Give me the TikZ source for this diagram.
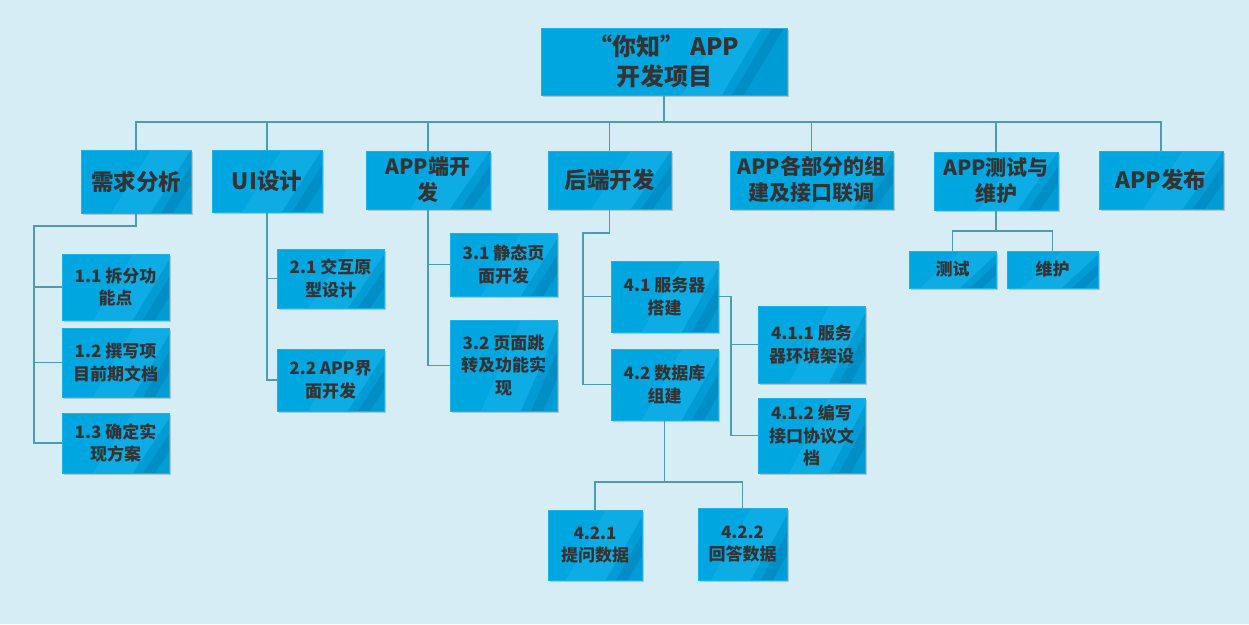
\documentclass[tikz,border=0pt]{standalone}
\usepackage{fontspec}
\setmainfont{Noto Sans CJK SC}
\usetikzlibrary{calc}
\definecolor{bgc}{HTML}{D6EDF6}
\definecolor{boxc}{HTML}{00A6E0}
\definecolor{boxlight}{HTML}{0EACE4}
\definecolor{boxdark}{HTML}{009CD6}
\definecolor{stripec}{HTML}{008EC7}
\definecolor{edgec}{HTML}{1EB0E6}
\definecolor{shadowc}{HTML}{A8C6D2}
\definecolor{linec}{HTML}{4A9BB4}
\definecolor{txtc}{HTML}{333333}
\tikzset{
  stripeoff/.store in=\stripeoff, stripeoff=38pt,
  box/.style={rectangle, fill=boxc, draw=edgec, line width=0.6pt, inner sep=2pt,
    align=center, text=txtc,
    preaction={fill=shadowc, transform canvas={shift={(1.5pt,-1.5pt)}}},
    path picture={
      \coordinate (SE) at (path picture bounding box.south east);
      \coordinate (NE) at (path picture bounding box.north east);
      \fill[boxlight] ($(SE)+(-\stripeoff-40pt,0pt)$) -- ($(NE)+(-\stripeoff,0pt)$) -- ($(NE)+(-\stripeoff+40pt,0pt)$) -- ($(SE)+(-\stripeoff,0pt)$) -- cycle;
      \fill[boxdark] ($(SE)+(-\stripeoff,0pt)$) -- ($(NE)+(-\stripeoff+40pt,0pt)$) -- ($(NE)+(60pt,0pt)$) -- ($(SE)+(60pt,0pt)$) -- cycle;
      \fill[stripec] ($(SE)+(-\stripeoff+10pt,0pt)$) -- ($(NE)+(-\stripeoff+50pt,0pt)$) -- ($(NE)+(-\stripeoff+62pt,0pt)$) -- ($(SE)+(-\stripeoff+22pt,0pt)$) -- cycle;
    }},
  rootbox/.style={box, stripeoff=65pt, font=\fontsize{24}{30}\selectfont\bfseries},
  l1box/.style={box, stripeoff=40pt, font=\fontsize{21}{26}\selectfont\bfseries},
  l1big/.style={l1box, font=\fontsize{22.5}{27}\selectfont\bfseries},
  l2box/.style={box, stripeoff=36pt, font=\fontsize{17}{22.5}\selectfont\bfseries},
  conn/.style={draw=linec, line width=1.2pt}
}
\begin{document}
\begin{tikzpicture}[x=1pt,y=-1pt]
\useasboundingbox (0,0) rectangle (1249,624);
\fill[bgc] (0,0) rectangle (1249,624);

% root
\node[rootbox, minimum width=246pt, minimum height=67pt] (root) at (664,61.5) {“你知” APP\\开发项目};

% level 1
\node[l1big, minimum width=110pt, minimum height=63pt] (n1) at (136,181.5) {需求分析};
\node[l1big, minimum width=110pt, minimum height=62pt] (n2) at (267,181) {UI设计};
\node[l1box, minimum width=124pt, minimum height=58pt] (n3) at (428,180) {APP端开\\发};
\node[l1big, minimum width=123pt, minimum height=58pt] (n4) at (609.5,180) {后端开发};
\node[l1box, minimum width=163pt, minimum height=58pt] (n5) at (811.5,180) {APP各部分的组\\建及接口联调};
\node[l1box, minimum width=124pt, minimum height=58pt] (n6) at (996,181) {APP测试与\\维护};
\node[l1big, minimum width=124pt, minimum height=58pt] (n7) at (1161,180) {APP发布};

% level 2
\node[l2box, minimum width=107pt, minimum height=66pt] (c11) at (115.5,287) {1.1 拆分功\\能点};
\node[l2box, minimum width=107pt, minimum height=69pt] (c12) at (115.5,362.5) {1.2 撰写项\\目前期文档};
\node[l2box, minimum width=107pt, minimum height=60pt] (c13) at (115.5,443) {1.3 确定实\\现方案};
\node[l2box, minimum width=107pt, minimum height=59pt] (c21) at (330.5,278.5) {2.1 交互原\\型设计};
\node[l2box, minimum width=107pt, minimum height=62pt] (c22) at (330.5,380) {2.2 APP界\\面开发};
\node[l2box, minimum width=107pt, minimum height=63pt] (c31) at (503.5,264.5) {3.1 静态页\\面开发};
\node[l2box, minimum width=107pt, minimum height=91pt] (c32) at (503.5,365.5) {3.2 页面跳\\转及功能实\\现};
\node[l2box, minimum width=107pt, minimum height=71pt] (c41) at (664.5,296.5) {4.1 服务器\\搭建};
\node[l2box, minimum width=107pt, minimum height=71pt] (c42) at (664.5,384.5) {4.2 数据库\\组建};
\node[l2box, minimum width=107pt, minimum height=77pt] (c411) at (811.5,344.5) {4.1.1 服务\\器环境架设};
\node[l2box, minimum width=107pt, minimum height=75pt] (c412) at (811.5,435.5) {4.1.2 编写\\接口协议文\\档};
\node[l2box, minimum width=94pt, minimum height=70pt] (c421) at (595,545) {4.2.1\\提问数据};
\node[l2box, minimum width=89pt, minimum height=72pt] (c422) at (742.5,544) {4.2.2\\回答数据};
\node[l2box, minimum width=87pt, minimum height=37pt] (t1) at (952.5,269.5) {测试};
\node[l2box, minimum width=91pt, minimum height=37pt] (t2) at (1052.5,269.5) {维护};

% connectors
\coordinate (bus) at (664,122);
\foreach \n in {n1,n2,n3,n4,n5,n6,n7}
  \draw[conn] (root.south) -- (bus) -| (\n.north);

\coordinate (j1) at (34,226);
\draw[conn] (n1.south) |- (j1) |- (c11.west);
\draw[conn] (j1) |- (c12.west);
\draw[conn] (j1) |- (c13.west);

\draw[conn] (n2.south) |- (c21.west);
\draw[conn] (n2.south) |- (c22.west);

\draw[conn] (n3.south) |- (c31.west);
\draw[conn] (n3.south) |- (c32.west);

\coordinate (j4) at (583,233);
\draw[conn] (n4.south) |- (j4) |- (c41.west);
\draw[conn] (j4) |- (c42.west);

\coordinate (j41) at (731,296.5);
\draw[conn] (c41.east) -- (j41) |- (c411.west);
\draw[conn] (j41) |- (c412.west);

\coordinate (j42) at (664.5,482);
\draw[conn] (c42.south) -- (j42) -| (c421.north);
\draw[conn] (j42) -| (c422.north);

\coordinate (j6) at (996,231);
\draw[conn] (n6.south) -- (j6) -| (t1.north);
\draw[conn] (j6) -| (t2.north);
\end{tikzpicture}
\end{document}
